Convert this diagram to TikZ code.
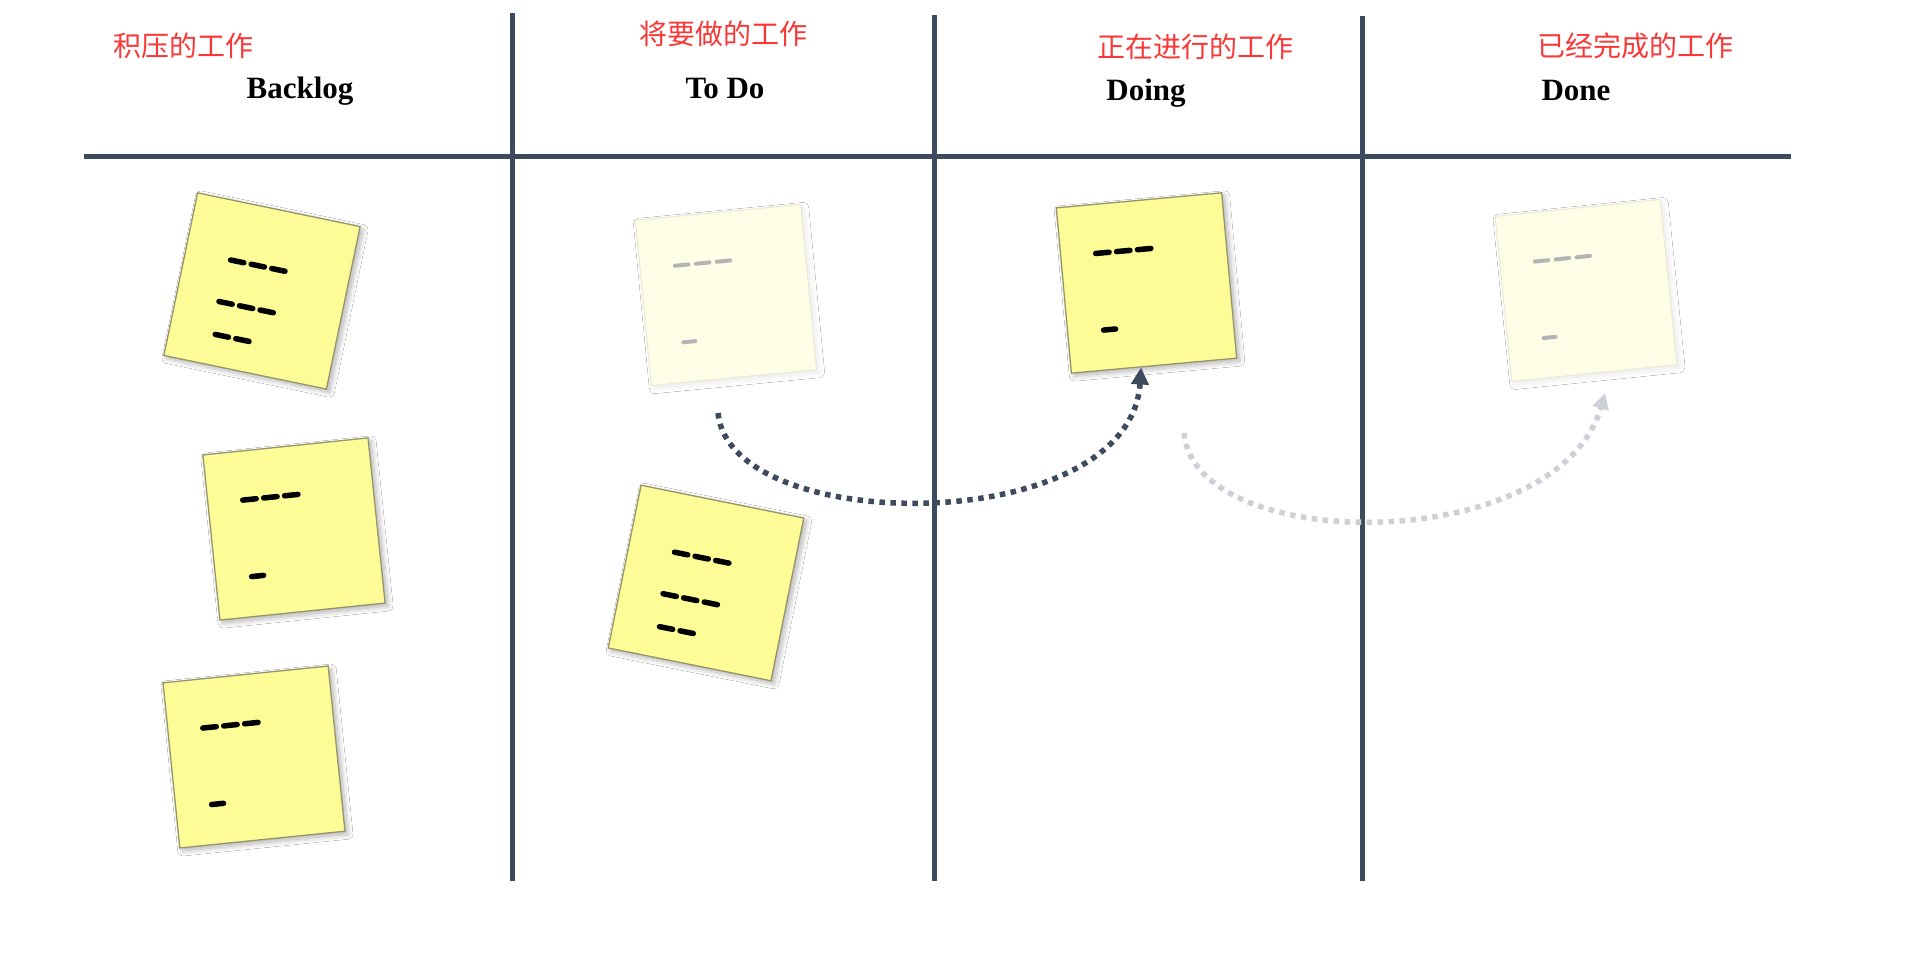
\documentclass[tikz,border=0pt]{standalone}
\usepackage{fontspec}
\setmainfont{Liberation Serif}
\newfontfamily\cjk{Noto Sans CJK SC}
\usetikzlibrary{shadows.blur,arrows.meta}
\definecolor{board}{RGB}{62,74,94}
\definecolor{notefill}{RGB}{254,252,150}
\definecolor{noteedge}{RGB}{150,148,105}
\definecolor{fadefill}{RGB}{254,253,230}
\definecolor{fadeedge}{RGB}{234,232,212}
\definecolor{fadeink}{RGB}{180,180,180}
\definecolor{fadearrow}{RGB}{205,209,215}
\definecolor{cnred}{RGB}{250,55,55}
\newcommand{\inkrow}[4]{%
  \foreach \k in {1,...,#3}{\draw[inkpen] ({#1+(\k-1)*21},#2) -- ++(#4,0);}}
\newcommand{\rowsA}{%
  \inkrow{-37}{-24}{3}{13.5}\inkrow{-40}{19}{3}{13.5}\inkrow{-37}{52}{2}{13.5}}
\newcommand{\rowsB}{%
  \inkrow{-48}{-34}{3}{13.5}\inkrow{-47}{43}{1}{12}}
\tikzset{
  note/.style={draw=noteedge, line width=1.3pt, fill=notefill,
    minimum width=166pt, minimum height=166pt, inner sep=0pt,
    blur shadow={shadow xshift=3pt, shadow yshift=-3pt, shadow blur steps=10,
      shadow opacity=30, shadow blur radius=5pt}},
  fadenote/.style={draw=fadeedge, line width=1pt, fill=fadefill,
    minimum width=166pt, minimum height=166pt, inner sep=0pt,
    blur shadow={shadow xshift=3pt, shadow yshift=-3pt, shadow blur steps=10,
      shadow opacity=8, shadow blur radius=5pt}},
  inkpen/.style={line width=5.5pt, line cap=round, black},
  boardline/.style={line width=5pt, board},
  cnlabel/.style={font=\cjk\fontsize{28}{30}\selectfont, text=cnred, inner sep=0pt},
  enlabel/.style={font=\fontsize{31}{34}\selectfont\bfseries, inner sep=0pt, anchor=base},
  movedark/.style={line width=5.5pt, board, dash pattern=on 5.5pt off 5.5pt,
    -{Triangle[length=17pt,width=17pt]}},
  movelight/.style={line width=5.5pt, fadearrow, dash pattern=on 5.5pt off 5.5pt,
    -{Triangle[length=16pt,width=16pt]}},
}
\begin{document}
\begin{tikzpicture}[x=1pt,y=-1pt]
\useasboundingbox (0,0) rectangle (1929,966);
\fill[white] (0,0) rectangle (1929,966);
% board lines
\draw[boardline] (84,156) -- (1791,156);
\draw[boardline] (512,13) -- (512,881);
\draw[boardline] (934,15) -- (934,881);
\draw[boardline] (1362,16) -- (1362,881);
% headers
\node[cnlabel] (cn1) at (183,46) {积压的工作};
\node[cnlabel] (cn2) at (723,34) {将要做的工作};
\node[cnlabel] (cn3) at (1195,47) {正在进行的工作};
\node[cnlabel] (cn4) at (1635,46) {已经完成的工作};
\node[enlabel] (en1) at (300,98) {Backlog};
\node[enlabel] (en2) at (725,98) {To Do};
\node[enlabel] (en3) at (1146,100) {Doing};
\node[enlabel] (en4) at (1576,100) {Done};
% notes
\node[note, rotate=-11.7] (bl1) at (262,291) {};
\begin{scope}[shift={(bl1.center)}, rotate=-11.7]\rowsA\end{scope}
\node[note, rotate=5.9] (bl2) at (294,529) {};
\begin{scope}[shift={(bl2.center)}, rotate=5.9]\rowsB\end{scope}
\node[note, rotate=5.8] (bl3) at (254,757) {};
\begin{scope}[shift={(bl3.center)}, rotate=5.8]\rowsB\end{scope}
\node[fadenote, rotate=5.5] (td1) at (726,295) {};
\begin{scope}[shift={(td1.center)}, rotate=5.5, inkpen/.style={line width=4pt, line cap=round, fadeink}]\rowsB\end{scope}
\node[note, rotate=-11.4] (td2) at (706,583) {};
\begin{scope}[shift={(td2.center)}, rotate=-11.4]\rowsA\end{scope}
\node[note, rotate=5.2] (dg1) at (1146.5,283) {};
\begin{scope}[shift={(dg1.center)}, rotate=5.2]\rowsB\end{scope}
\node[fadenote, rotate=5.8] (dn1) at (1586,290.5) {};
\begin{scope}[shift={(dn1.center)}, rotate=5.8, inkpen/.style={line width=4pt, line cap=round, fadeink}]\rowsB\end{scope}
% moves
\coordinate (m1s) at (718,413);
\draw[movedark] (m1s) .. controls (730,538) and (1130,538) .. (dg1);
\coordinate (m2s) at (1184,433);
\coordinate (m2e) at (1605,393);
\draw[movelight] (m2s) .. controls (1195,556) and (1558,556) .. (m2e);
\end{tikzpicture}
\end{document}
